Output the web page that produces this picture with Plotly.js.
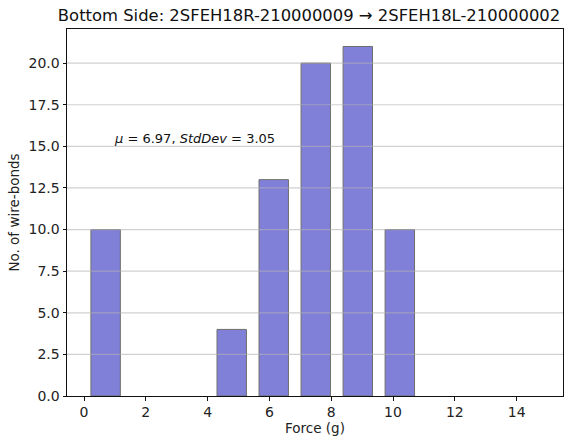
<!DOCTYPE html>
<html>
<head>
<meta charset="utf-8">
<script src="https://cdn.plot.ly/plotly-3.0.1.min.js"></script>
<style>html,body{margin:0;padding:0;background:#fff;}#chart{width:570px;height:441px;}</style>
</head>
<body>
<div id="chart"></div>
<script>
// Histogram bin edges (force, g) and counts per bin
const binEdges = [0.02, 1.38, 2.74, 4.10, 5.46, 6.82, 8.18, 9.54, 10.90];
const counts = [10, 0, 0, 4, 13, 20, 21, 10];
const yTicks = [0, 2.5, 5, 7.5, 10, 12.5, 15, 17.5, 20];
const xTicks = [0, 2, 4, 6, 8, 10, 12, 14];
const meanVal = 6.97;
const stdVal = 3.05;
const titleText = "Bottom Side: 2SFEH18R-210000009 \u2192 2SFEH18L-210000002";

const centers = counts.map((c, i) => (binEdges[i] + binEdges[i + 1]) / 2);
const widths = counts.map((c, i) => 0.7 * (binEdges[i + 1] - binEdges[i]));
const edgeWidths = counts.map(c => c > 0 ? 1 : 0);

const font = "DejaVu Sans, sans-serif";
const gridShapes = yTicks.filter(v => v > 0).map(v => ({
  type: 'line', xref: 'paper', yref: 'y', x0: 0, x1: 1, y0: v, y1: v,
  line: {color: 'rgba(176,176,176,0.6)', width: 1.2}, layer: 'above'
}));

const data = [{
  type: 'bar', x: centers, y: counts, width: widths,
  marker: {color: '#8080d9', line: {color: '#6e6e6e', width: edgeWidths}},
  hoverinfo: 'skip'
}];

const layout = {
  width: 570, height: 441,
  margin: {l: 67, r: 7, t: 29, b: 45},
  paper_bgcolor: '#fff', plot_bgcolor: '#fff',
  font: {family: font, size: 14, color: '#222'},
  showlegend: false,
  title: {text: titleText, font: {family: font, size: 16.4, color: '#111'},
          x: 0.488, xref: 'paper', y: 1, yref: 'paper', yanchor: 'bottom', pad: {b: 8}},
  xaxis: {range: [-0.55, 15.5], tickvals: xTicks, ticktext: xTicks.map(String),
          ticks: 'outside', ticklen: 3.5, tickcolor: '#111', showgrid: false, zeroline: false,
          showline: true, linecolor: '#111', linewidth: 1, mirror: true,
          title: {text: 'Force (g)', font: {family: font, size: 13.5}, standoff: 4},
          tickfont: {family: font, size: 14}},
  yaxis: {range: [0, 22.05], tickvals: yTicks, ticktext: yTicks.map(v => v.toFixed(1)),
          ticks: 'outside', ticklen: 3.5, tickcolor: '#111', showgrid: false, zeroline: false,
          showline: true, linecolor: '#111', linewidth: 1, mirror: true,
          title: {text: 'No. of wire-bonds', font: {family: font, size: 13.5}, standoff: 5},
          tickfont: {family: font, size: 14}},
  shapes: gridShapes,
  annotations: [{
    x: 0.9, y: 15, xref: 'x', yref: 'y', xanchor: 'left', yanchor: 'bottom', yshift: -2,
    showarrow: false,
    text: '<i>\u03bc</i> = ' + meanVal.toFixed(2) + ', <i>StdDev</i> = ' + stdVal.toFixed(2),
    font: {family: font, size: 13, color: '#111'}
  }]
};

Plotly.newPlot('chart', data, layout, {displayModeBar: false, staticPlot: true});
</script>
</body>
</html>
